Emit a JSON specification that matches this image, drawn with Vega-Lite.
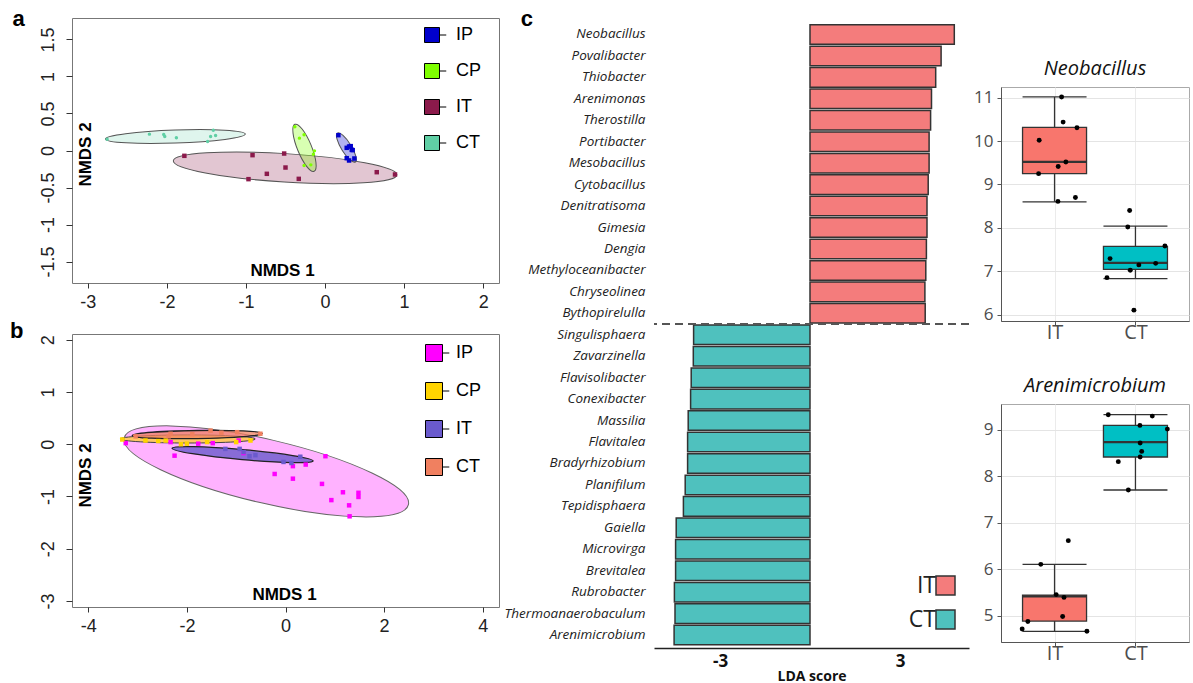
{
"$schema": "https://vega.github.io/schema/vega-lite/v6.json",
"background": "white",
"padding": {"left": 9, "top": 7, "right": 0, "bottom": 0},
"config": {"view": {"stroke": null}, "font": "Liberation Sans", "legend": {"padding": 0}},
"datasets": {
"ptsA": [
{"g":"IP","x":0.169,"y":0.207},{"g":"IP","x":0.274,"y":0.036},{"g":"IP","x":0.304,"y":0.054},{"g":"IP","x":0.338,"y":0.009},{"g":"IP","x":0.350,"y":0.005},{"g":"IP","x":0.274,"y":-0.104},{"g":"IP","x":0.304,"y":-0.135},{"g":"IP","x":0.371,"y":-0.108},{"g":"IP","x":0.325,"y":0.059},
{"g":"CP","x":-0.382,"y":0.320},{"g":"CP","x":-0.265,"y":0.212},{"g":"CP","x":-0.324,"y":0.167},{"g":"CP","x":-0.134,"y":-0.005},{"g":"CP","x":-0.147,"y":-0.050},{"g":"CP","x":-0.265,"y":-0.203},{"g":"CP","x":-0.180,"y":-0.194},
{"g":"IT","x":-1.779,"y":-0.072},{"g":"IT","x":-0.917,"y":-0.063},{"g":"IT","x":-0.517,"y":-0.041},{"g":"IT","x":-0.500,"y":-0.230},{"g":"IT","x":-0.736,"y":-0.315},{"g":"IT","x":-0.968,"y":-0.387},{"g":"IT","x":-0.332,"y":-0.383},{"g":"IT","x":0.654,"y":-0.293},{"g":"IT","x":0.885,"y":-0.324},
{"g":"CT","x":-2.756,"y":0.153},{"g":"CT","x":-2.221,"y":0.221},{"g":"CT","x":-2.040,"y":0.216},{"g":"CT","x":-2.027,"y":0.189},{"g":"CT","x":-1.880,"y":0.171},{"g":"CT","x":-1.485,"y":0.122},{"g":"CT","x":-1.447,"y":0.189},{"g":"CT","x":-1.384,"y":0.203},{"g":"CT","x":-1.413,"y":0.275}
],
"ellA": [
{"g":"CT","x":-1.893,"y":0.189},{"g":"IT","x":-0.505,"y":-0.234},{"g":"CP","x":-0.26,"y":0.036},{"g":"IP","x":0.27,"y":0.04}
],
"ptsB": [
{"g":"IP","x":-3.24,"y":0.02},{"g":"IP","x":-2.25,"y":-0.22},{"g":"IP","x":-2.33,"y":0.04},{"g":"IP","x":-1.77,"y":0.01},{"g":"IP","x":-1.475,"y":0.02},{"g":"IP","x":-0.95,"y":0.07},{"g":"IP","x":-0.85,"y":-0.17},{"g":"IP","x":-0.22,"y":-0.57},{"g":"IP","x":0.15,"y":-0.42},{"g":"IP","x":0.41,"y":-0.39},{"g":"IP","x":0.81,"y":-0.23},{"g":"IP","x":0.15,"y":-0.66},{"g":"IP","x":0.74,"y":-0.76},{"g":"IP","x":1.165,"y":-0.92},{"g":"IP","x":1.48,"y":-0.93},{"g":"IP","x":1.48,"y":-1.01},{"g":"IP","x":0.93,"y":-1.07},{"g":"IP","x":1.29,"y":-1.17},{"g":"IP","x":1.30,"y":-1.38},
{"g":"CP","x":-3.31,"y":0.09},{"g":"CP","x":-2.84,"y":0.07},{"g":"CP","x":-2.58,"y":0.06},{"g":"CP","x":-2.43,"y":0.07},{"g":"CP","x":-2.12,"y":0.0},{"g":"CP","x":-2.0,"y":0.01},{"g":"CP","x":-1.59,"y":0.04},{"g":"CP","x":-0.71,"y":0.07},{"g":"CP","x":-1.0,"y":0.04},
{"g":"CT","x":-3.04,"y":0.15},{"g":"CT","x":-2.37,"y":0.15},{"g":"CT","x":-2.33,"y":0.20},{"g":"CT","x":-1.89,"y":0.19},{"g":"CT","x":-1.52,"y":0.26},{"g":"CT","x":-0.98,"y":0.23},{"g":"CT","x":-0.51,"y":0.20},{"g":"CT","x":-1.3,"y":0.22},
{"g":"IT","x":-1.22,"y":-0.09},{"g":"IT","x":-0.93,"y":-0.09},{"g":"IT","x":-0.73,"y":-0.23},{"g":"IT","x":-0.61,"y":-0.21},{"g":"IT","x":-0.04,"y":-0.34},{"g":"IT","x":0.30,"y":-0.24},{"g":"IT","x":-0.85,"y":-0.15},{"g":"IT","x":0.12,"y":-0.36}
],
"ellB": [
{"g":"IP","x":-0.39,"y":-0.52},{"g":"CP","x":-1.98,"y":0.10},{"g":"CT","x":-1.79,"y":0.185},{"g":"IT","x":-0.87,"y":-0.20}
],
"lda": [
{"genus":"Neobacillus","lda":4.81,"grp":"IT"},{"genus":"Povalibacter","lda":4.37,"grp":"IT"},{"genus":"Thiobacter","lda":4.19,"grp":"IT"},{"genus":"Arenimonas","lda":4.05,"grp":"IT"},{"genus":"Therostilla","lda":4.02,"grp":"IT"},{"genus":"Portibacter","lda":3.97,"grp":"IT"},{"genus":"Mesobacillus","lda":3.97,"grp":"IT"},{"genus":"Cytobacillus","lda":3.94,"grp":"IT"},{"genus":"Denitratisoma","lda":3.90,"grp":"IT"},{"genus":"Gimesia","lda":3.90,"grp":"IT"},{"genus":"Dengia","lda":3.88,"grp":"IT"},{"genus":"Methyloceanibacter","lda":3.86,"grp":"IT"},{"genus":"Chryseolinea","lda":3.83,"grp":"IT"},{"genus":"Bythopirelulla","lda":3.84,"grp":"IT"},
{"genus":"Singulisphaera","lda":-3.88,"grp":"CT"},{"genus":"Zavarzinella","lda":-3.89,"grp":"CT"},{"genus":"Flavisolibacter","lda":-3.96,"grp":"CT"},{"genus":"Conexibacter","lda":-3.98,"grp":"CT"},{"genus":"Massilia","lda":-4.06,"grp":"CT"},{"genus":"Flavitalea","lda":-4.08,"grp":"CT"},{"genus":"Bradyrhizobium","lda":-4.08,"grp":"CT"},{"genus":"Planifilum","lda":-4.16,"grp":"CT"},{"genus":"Tepidisphaera","lda":-4.22,"grp":"CT"},{"genus":"Gaiella","lda":-4.46,"grp":"CT"},{"genus":"Microvirga","lda":-4.48,"grp":"CT"},{"genus":"Brevitalea","lda":-4.48,"grp":"CT"},{"genus":"Rubrobacter","lda":-4.52,"grp":"CT"},{"genus":"Thermoanaerobaculum","lda":-4.50,"grp":"CT"},{"genus":"Arenimicrobium","lda":-4.53,"grp":"CT"}
],
"boxNeo": [
{"g":"IT","xv":1,"lo":8.60,"q1":9.25,"med":9.52,"q3":10.32,"hi":11.02},{"g":"CT","xv":2,"lo":6.83,"q1":7.04,"med":7.19,"q3":7.57,"hi":8.04}
],
"ptsNeo": [
{"g":"IT","xv":1.087,"v":11.02},{"g":"IT","xv":1.106,"v":10.44},{"g":"IT","xv":0.81,"v":10.02},{"g":"IT","xv":1.277,"v":10.31},{"g":"IT","xv":1.14,"v":9.52},{"g":"IT","xv":1.045,"v":9.415},{"g":"IT","xv":0.803,"v":9.25},{"g":"IT","xv":1.258,"v":8.70},{"g":"IT","xv":1.042,"v":8.61},
{"g":"CT","xv":1.928,"v":8.40},{"g":"CT","xv":1.905,"v":8.02},{"g":"CT","xv":2.364,"v":7.58},{"g":"CT","xv":1.686,"v":7.29},{"g":"CT","xv":2.042,"v":7.145},{"g":"CT","xv":2.25,"v":7.18},{"g":"CT","xv":1.936,"v":7.02},{"g":"CT","xv":1.648,"v":6.85},{"g":"CT","xv":1.981,"v":6.10}
],
"boxAre": [
{"g":"IT","xv":1,"lo":4.66,"q1":4.88,"med":5.41,"q3":5.44,"hi":6.10},{"g":"CT","xv":2,"lo":7.70,"q1":8.41,"med":8.73,"q3":9.09,"hi":9.32}
],
"ptsAre": [
{"g":"IT","xv":0.83,"v":6.10},{"g":"IT","xv":1.17,"v":6.61},{"g":"IT","xv":1.02,"v":5.45},{"g":"IT","xv":1.117,"v":5.39},{"g":"IT","xv":1.10,"v":4.98},{"g":"IT","xv":0.67,"v":4.87},{"g":"IT","xv":0.60,"v":4.71},{"g":"IT","xv":1.40,"v":4.66},
{"g":"CT","xv":1.664,"v":9.32},{"g":"CT","xv":2.208,"v":9.29},{"g":"CT","xv":2.055,"v":9.09},{"g":"CT","xv":2.394,"v":9.01},{"g":"CT","xv":2.058,"v":8.71},{"g":"CT","xv":2.077,"v":8.53},{"g":"CT","xv":2.058,"v":8.41},{"g":"CT","xv":1.788,"v":8.31},{"g":"CT","xv":1.912,"v":7.70}
]
},
"spacing": 2,
"resolve": {"scale": {"color": "independent"}, "legend": {"color": "independent"}},
"hconcat": [
{
"spacing": 6,
"resolve": {"scale": {"color": "independent"}, "legend": {"color": "independent"}},
"vconcat": [
{
"width": 427, "height": 265,
"view": {"stroke": "#777", "strokeWidth": 1},
"title": {"text": "a", "orient": "left", "anchor": "end", "angle": 0, "align": "right", "baseline": "top", "fontSize": 22, "fontWeight": "bold", "offset": 2, "dy": -9, "color": "#000"},
"encoding": {
"x": {"field": "x", "type": "quantitative", "scale": {"domain": [-3.2, 2.2], "nice": false, "zero": false}, "axis": {"values": [-3,-2,-1,0,1,2], "labelExpr": "datum.value + ''", "labelFontSize": 18, "labelColor": "#222", "labelPadding": 5, "tickSize": 5, "tickColor": "#333", "domain": false, "grid": false, "title": "NMDS 1", "titleFontSize": 17, "titleFontWeight": "bold", "titleX": 210, "titleY": -13, "titleAlign": "center", "titleBaseline": "middle", "titleColor": "#000", "minExtent": 29, "maxExtent": 29}},
"y": {"field": "y", "type": "quantitative", "scale": {"domain": [-1.79, 1.79], "nice": false, "zero": false}, "axis": {"values": [-1.5,-1,-0.5,0,0.5,1,1.5], "labelExpr": "datum.value + ''", "labelAngle": 270, "labelAlign": "center", "labelBaseline": "bottom", "labelFontSize": 18, "labelColor": "#222", "labelPadding": 9, "tickSize": 6, "tickColor": "#333", "domain": false, "grid": false, "title": "NMDS 2", "titleAngle": 270, "titleFontSize": 17, "titleFontWeight": "bold", "titleX": 13, "titleY": 136, "titleAlign": "center", "titleBaseline": "middle", "titleColor": "#000", "minExtent": 31, "maxExtent": 31}}
},
"layer": [
{"data": {"name": "ellA"}, "transform": [{"filter": "datum.g === 'CT'"}], "mark": {"type": "point", "shape": "M -1 0 A 1 0.093 0 1 0 1 0 A 1 0.093 0 1 0 -1 0 Z", "size": 19600, "angle": 358, "fill": "#60CFA5", "fillOpacity": 0.2, "stroke": "#555", "strokeWidth": 1, "opacity": 1}},
{"data": {"name": "ellA"}, "transform": [{"filter": "datum.g === 'IT'"}], "mark": {"type": "point", "shape": "M -1 0 A 1 0.127 0 1 0 1 0 A 1 0.127 0 1 0 -1 0 Z", "size": 50176, "angle": 3.6, "fill": "#8B1A4B", "fillOpacity": 0.25, "stroke": "#555", "strokeWidth": 1, "opacity": 1}},
{"data": {"name": "ellA"}, "transform": [{"filter": "datum.g === 'CP'"}], "mark": {"type": "point", "shape": "M -1 0 A 1 0.28 0 1 0 1 0 A 1 0.28 0 1 0 -1 0 Z", "size": 2581, "angle": 67.7, "fill": "#7FFF00", "fillOpacity": 0.3, "stroke": "#555", "strokeWidth": 1, "opacity": 1}},
{"data": {"name": "ellA"}, "transform": [{"filter": "datum.g === 'IP'"}], "mark": {"type": "point", "shape": "M -1 0 A 1 0.294 0 1 0 1 0 A 1 0.294 0 1 0 -1 0 Z", "size": 1156, "angle": 58, "fill": "#0000CC", "fillOpacity": 0.3, "stroke": "#555", "strokeWidth": 1, "opacity": 1}},
{"data": {"name": "ptsA"}, "transform": [{"filter": "datum.g === 'IP' || datum.g === 'IT'"}], "mark": {"type": "square", "size": 20, "opacity": 1},
 "encoding": {"color": {"field": "g", "type": "nominal", "scale": {"domain": ["IP","CP","IT","CT"], "range": ["#0000CC","#7FFF00","#8B1A4B","#60CFA5"]},
  "legend": {"title": null, "orient": "none", "legendX": 351, "legendY": 8, "padding": 0, "symbolType": "M -1 -1 L 1 -1 L 1 1 L -1 1 Z M 1 0 L 1.9 0", "symbolSize": 225, "symbolStrokeColor": "#000", "symbolStrokeWidth": 1, "symbolOpacity": 1, "labelFontSize": 18, "labelColor": "#000", "labelOffset": 15, "rowPadding": 16, "labelBaseline": "middle"}}}},
{"data": {"name": "ptsA"}, "transform": [{"filter": "datum.g === 'CP' || datum.g === 'CT'"}], "mark": {"type": "circle", "size": 12, "opacity": 1},
 "encoding": {"color": {"field": "g", "type": "nominal", "scale": {"domain": ["IP","CP","IT","CT"], "range": ["#0000CC","#7FFF00","#8B1A4B","#60CFA5"]}}}}
]
},
{
"width": 427, "height": 273,
"view": {"stroke": "#777", "strokeWidth": 1},
"title": {"text": "b", "orient": "left", "anchor": "end", "angle": 0, "align": "right", "baseline": "top", "fontSize": 22, "fontWeight": "bold", "offset": 2, "dy": -13, "color": "#000"},
"encoding": {
"x": {"field": "x", "type": "quantitative", "scale": {"domain": [-4.33, 4.33], "nice": false, "zero": false}, "axis": {"values": [-4,-2,0,2,4], "labelExpr": "datum.value + ''", "labelFontSize": 18, "labelColor": "#222", "labelPadding": 5, "tickSize": 5, "tickColor": "#333", "domain": false, "grid": false, "title": "NMDS 1", "titleFontSize": 17, "titleFontWeight": "bold", "titleX": 212, "titleY": -13, "titleAlign": "center", "titleBaseline": "middle", "titleColor": "#000", "minExtent": 29, "maxExtent": 29}},
"y": {"field": "y", "type": "quantitative", "scale": {"domain": [-3.115, 2.108], "nice": false, "zero": false}, "axis": {"values": [-3,-2,-1,0,1,2], "labelExpr": "datum.value + ''", "labelAngle": 270, "labelAlign": "center", "labelBaseline": "bottom", "labelFontSize": 18, "labelColor": "#222", "labelPadding": 9, "tickSize": 6, "tickColor": "#333", "domain": false, "grid": false, "title": "NMDS 2", "titleAngle": 270, "titleFontSize": 17, "titleFontWeight": "bold", "titleX": 13, "titleY": 141, "titleAlign": "center", "titleBaseline": "middle", "titleColor": "#000", "minExtent": 31, "maxExtent": 31}}
},
"layer": [
{"data": {"name": "ellB"}, "transform": [{"filter": "datum.g === 'IP'"}], "mark": {"type": "point", "shape": "M -1 0 A 1 0.218 0 1 0 1 0 A 1 0.218 0 1 0 -1 0 Z", "size": 85264, "angle": 13.2, "fill": "#FF00FF", "fillOpacity": 0.3, "stroke": "#666", "strokeWidth": 1, "opacity": 1}},
{"data": {"name": "ellB"}, "transform": [{"filter": "datum.g === 'CP'"}], "mark": {"type": "point", "shape": "M -1 0 A 1 0.06 0 1 0 1 0 A 1 0.06 0 1 0 -1 0 Z", "size": 18225, "angle": 0, "fill": "#FFD400", "fillOpacity": 0.6, "stroke": "#444", "strokeWidth": 1, "opacity": 1}},
{"data": {"name": "ellB"}, "transform": [{"filter": "datum.g === 'CT'"}], "mark": {"type": "point", "shape": "M -1 0 A 1 0.062 0 1 0 1 0 A 1 0.062 0 1 0 -1 0 Z", "size": 16900, "angle": 359, "fill": "#F08060", "fillOpacity": 0.75, "stroke": "#222", "strokeWidth": 1.3, "opacity": 1}},
{"data": {"name": "ellB"}, "transform": [{"filter": "datum.g === 'IT'"}], "mark": {"type": "point", "shape": "M -1 0 A 1 0.071 0 1 0 1 0 A 1 0.071 0 1 0 -1 0 Z", "size": 20050, "angle": 5.1, "fill": "#6A5ACD", "fillOpacity": 0.8, "stroke": "#222", "strokeWidth": 1.3, "opacity": 1}},
{"data": {"name": "ptsB"}, "mark": {"type": "square", "size": 20, "opacity": 1},
 "encoding": {"color": {"field": "g", "type": "nominal", "scale": {"domain": ["IP","CP","IT","CT"], "range": ["#FF00FF","#FFD400","#6A5ACD","#F08060"]},
  "legend": {"title": null, "orient": "none", "legendX": 353, "legendY": 10, "padding": 0, "symbolType": "M -1 -1 L 1 -1 L 1 1 L -1 1 Z M 1 0 L 1.8 0", "symbolSize": 289, "symbolStrokeColor": "#000", "symbolStrokeWidth": 1, "symbolOpacity": 1, "labelFontSize": 18, "labelColor": "#000", "labelOffset": 13, "rowPadding": 16, "labelBaseline": "middle"}}}}
]
}
]
},
{
"vconcat": [
{
"width": 315, "height": 630,
"data": {"name": "lda"},
"title": {"text": "c", "orient": "left", "anchor": "end", "angle": 0, "align": "left", "baseline": "top", "fontSize": 22, "fontWeight": "bold", "offset": 0, "dx": 31, "dy": -9, "color": "#000"},
"layer": [
{"mark": {"type": "bar", "stroke": "#333", "strokeWidth": 1.5},
 "encoding": {
 "y": {"field": "genus", "type": "nominal", "sort": null, "scale": {"paddingInner": 0.09, "paddingOuter": 0.23, "align": 0.68}, "axis": {"title": null, "labelFont": "Open Sans", "labelFontStyle": "italic", "labelFontSize": 13.5, "labelColor": "#222", "ticks": false, "tickSize": 0, "domain": false, "labelPadding": 9, "minExtent": 152, "maxExtent": 152}},
 "x": {"field": "lda", "type": "quantitative", "scale": {"domain": [-5.2, 5.3], "nice": false, "zero": false}, "axis": {"values": [-3, 3], "labelExpr": "datum.value + ''", "labelFont": "Open Sans", "labelFontSize": 17, "labelFontWeight": "bold", "labelColor": "#111", "ticks": false, "tickSize": 0, "labelPadding": 5, "domain": true, "domainColor": "#222", "domainWidth": 1.5, "grid": false, "title": "LDA score", "titleFont": "Open Sans", "titleFontSize": 14, "titleFontWeight": "bold", "titleColor": "#111", "titlePadding": 0}},
 "color": {"field": "grp", "type": "nominal", "scale": {"domain": ["IT", "CT"], "range": ["#F47C7C", "#4FC1BE"]},
  "legend": {"title": null, "orient": "none", "legendX": 280, "legendY": 556, "padding": 0, "symbolType": "square", "symbolSize": 361, "symbolStrokeColor": "#333", "symbolStrokeWidth": 1.5, "symbolOpacity": 1, "labelFont": "Open Sans", "labelFontSize": 23, "labelColor": "#222", "labelAlign": "right", "labelOffset": -21, "rowPadding": 9, "labelBaseline": "middle"}}
 }},
{"data": {"values": [{}]}, "mark": {"type": "rule", "strokeDash": [8, 5], "color": "#555", "strokeWidth": 2},
 "encoding": {"y": {"datum": "Singulisphaera", "type": "nominal", "bandPosition": -0.05}}}
]
}
]
},
{
"spacing": 32,
"vconcat": [
{"width": 188, "height": 5, "data": {"values": [{}]}, "mark": {"type": "text", "text": ""}},
{
"width": 188, "height": 234,
"view": {"stroke": "#aaa", "strokeWidth": 1},
"title": {"text": "Neobacillus", "fontSize": 20, "font": "Open Sans", "fontStyle": "italic", "fontWeight": "normal", "color": "#111", "anchor": "middle", "offset": 8},
"encoding": {"x": {"field": "xv", "type": "quantitative", "scale": {"domain": [0.4, 2.6], "nice": false, "zero": false}, "axis": {"values": [1, 2], "labelExpr": "datum.value === 1 ? 'IT' : 'CT'", "labelFontSize": 20, "labelFont": "Open Sans", "labelColor": "#4d4d4d", "labelPadding": -3, "tickSize": 4, "tickColor": "#555", "domain": true, "domainColor": "#555", "grid": true, "gridColor": "#ebebeb", "title": null, "minExtent": 20, "maxExtent": 20}}},
"layer": [
{"data": {"name": "boxNeo"}, "mark": {"type": "rule", "color": "#333", "strokeWidth": 1.3},
 "encoding": {"y": {"field": "lo", "type": "quantitative", "scale": {"domain": [5.85, 11.25], "nice": false, "zero": false},
  "axis": {"values": [6,6.5,7,7.5,8,8.5,9,9.5,10,10.5,11], "labelOverlap": false, "labelExpr": "datum.value % 1 === 0 ? datum.value + '' : ''", "gridColor": {"condition": {"test": "datum.value % 1 === 0", "value": "#e4e4e4"}, "value": "#f2f2f2"}, "tickColor": {"condition": {"test": "datum.value % 1 === 0", "value": "#555"}, "value": "transparent"}, "grid": true, "tickSize": 4, "labelFontSize": 17, "labelFont": "Open Sans", "labelColor": "#4d4d4d", "labelPadding": 4, "domain": true, "domainColor": "#555", "title": null, "minExtent": 28, "maxExtent": 28}},
  "y2": {"field": "hi"}}},
{"data": {"name": "boxNeo"}, "mark": {"type": "tick", "orient": "horizontal", "size": 64, "thickness": 1.3, "color": "#333", "opacity": 1}, "encoding": {"y": {"field": "lo", "type": "quantitative", "title": null}}},
{"data": {"name": "boxNeo"}, "mark": {"type": "tick", "orient": "horizontal", "size": 64, "thickness": 1.3, "color": "#333", "opacity": 1}, "encoding": {"y": {"field": "hi", "type": "quantitative", "title": null}}},
{"data": {"name": "boxNeo"}, "mark": {"type": "bar", "width": 64, "stroke": "#333", "strokeWidth": 1.3},
 "encoding": {"y": {"field": "q1", "type": "quantitative", "title": null}, "y2": {"field": "q3"}, "color": {"field": "g", "type": "nominal", "scale": {"domain": ["IT", "CT"], "range": ["#F8766D", "#00BFC4"]}, "legend": null}}},
{"data": {"name": "boxNeo"}, "mark": {"type": "tick", "orient": "horizontal", "size": 64, "thickness": 2.2, "color": "#333", "opacity": 1}, "encoding": {"y": {"field": "med", "type": "quantitative", "title": null}}},
{"data": {"name": "ptsNeo"}, "mark": {"type": "circle", "size": 24, "color": "#000", "opacity": 1},
 "encoding": {"y": {"field": "v", "type": "quantitative", "title": null}}}
]
},
{
"width": 188, "height": 238,
"view": {"stroke": "#aaa", "strokeWidth": 1},
"title": {"text": "Arenimicrobium", "fontSize": 20, "font": "Open Sans", "fontStyle": "italic", "fontWeight": "normal", "color": "#111", "anchor": "middle", "offset": 8},
"encoding": {"x": {"field": "xv", "type": "quantitative", "scale": {"domain": [0.4, 2.6], "nice": false, "zero": false}, "axis": {"values": [1, 2], "labelExpr": "datum.value === 1 ? 'IT' : 'CT'", "labelFontSize": 20, "labelFont": "Open Sans", "labelColor": "#4d4d4d", "labelPadding": -3, "tickSize": 4, "tickColor": "#555", "domain": true, "domainColor": "#555", "grid": true, "gridColor": "#ebebeb", "title": null, "minExtent": 20, "maxExtent": 20}}},
"layer": [
{"data": {"name": "boxAre"}, "mark": {"type": "rule", "color": "#333", "strokeWidth": 1.3},
 "encoding": {"y": {"field": "lo", "type": "quantitative", "scale": {"domain": [4.43, 9.55], "nice": false, "zero": false},
  "axis": {"values": [5,5.5,6,6.5,7,7.5,8,8.5,9,9.5], "labelOverlap": false, "labelExpr": "datum.value % 1 === 0 ? datum.value + '' : ''", "gridColor": {"condition": {"test": "datum.value % 1 === 0", "value": "#e4e4e4"}, "value": "#f2f2f2"}, "tickColor": {"condition": {"test": "datum.value % 1 === 0", "value": "#555"}, "value": "transparent"}, "grid": true, "tickSize": 4, "labelFontSize": 17, "labelFont": "Open Sans", "labelColor": "#4d4d4d", "labelPadding": 4, "domain": true, "domainColor": "#555", "title": null, "minExtent": 28, "maxExtent": 28}},
  "y2": {"field": "hi"}}},
{"data": {"name": "boxAre"}, "mark": {"type": "tick", "orient": "horizontal", "size": 64, "thickness": 1.3, "color": "#333", "opacity": 1}, "encoding": {"y": {"field": "lo", "type": "quantitative", "title": null}}},
{"data": {"name": "boxAre"}, "mark": {"type": "tick", "orient": "horizontal", "size": 64, "thickness": 1.3, "color": "#333", "opacity": 1}, "encoding": {"y": {"field": "hi", "type": "quantitative", "title": null}}},
{"data": {"name": "boxAre"}, "mark": {"type": "bar", "width": 64, "stroke": "#333", "strokeWidth": 1.3},
 "encoding": {"y": {"field": "q1", "type": "quantitative", "title": null}, "y2": {"field": "q3"}, "color": {"field": "g", "type": "nominal", "scale": {"domain": ["IT", "CT"], "range": ["#F8766D", "#00BFC4"]}, "legend": null}}},
{"data": {"name": "boxAre"}, "mark": {"type": "tick", "orient": "horizontal", "size": 64, "thickness": 2.2, "color": "#333", "opacity": 1}, "encoding": {"y": {"field": "med", "type": "quantitative", "title": null}}},
{"data": {"name": "ptsAre"}, "mark": {"type": "circle", "size": 24, "color": "#000", "opacity": 1},
 "encoding": {"y": {"field": "v", "type": "quantitative", "title": null}}}
]
}
]
}
]
}
